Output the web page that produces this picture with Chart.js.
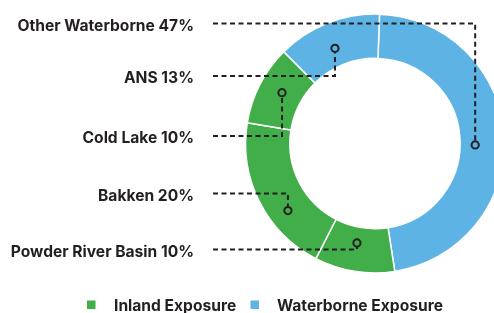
<!DOCTYPE html>
<html>
<head>
<meta charset="utf-8">
<script src="https://cdn.jsdelivr.net/npm/chart.js@4"></script>
<style>
  html, body { margin: 0; padding: 0; background: #ffffff; overflow: hidden; }
  #wrap { position: relative; width: 494px; height: 313px; }
</style>
</head>
<body>
<div id="wrap"><canvas id="exposureChart"></canvas></div>
<script>
// crude sources, clockwise from the top
const sources = ['Other Waterborne', 'Powder River Basin', 'Bakken', 'Cold Lake', 'ANS'];
const shares = [47, 10, 20, 10, 13];
const exposure = ['Waterborne', 'Inland', 'Inland', 'Inland', 'Waterborne'];
const legendLabels = ['Inland Exposure', 'Waterborne Exposure'];

const colors = {
    'Inland': '#41ae4a',
    'Waterborne': '#5db3e4'
};
const ink = '#231f20';
const textFont = "bold 15.6px 'Inter', 'Liberation Sans', sans-serif";

// callout layout: label line y, where the marker sits inside its slice
const callouts = {
    0: { lineY: 23.5, along: 0.525, depth: 0.34 },
    4: { lineY: 76, along: 0.47, depth: 0.41 },
    3: { lineY: 136, along: 0.54, depth: 0.47 },
    2: { lineY: 193.5, along: 0.35, depth: 0.56 },
    1: { lineY: 249.5, along: 0.53, depth: 0.36 }
};

const calloutPlugin = {
    id: 'callouts',
    afterDatasetsDraw(chart) {
        const ctx = chart.ctx;
        const arcs = chart.getDatasetMeta(0).data;
        ctx.save();

        arcs.forEach((arc, i) => {
            const c = callouts[i];
            if (!c) return;
            const p = arc.getProps(['x', 'y', 'startAngle', 'endAngle', 'innerRadius', 'outerRadius'], true);
            const a = p.startAngle + (p.endAngle - p.startAngle) * c.along;
            const r = p.innerRadius + (p.outerRadius - p.innerRadius) * c.depth;
            const mx = p.x + r * Math.cos(a);
            const my = p.y + r * Math.sin(a);
            const dir = my > c.lineY ? 1 : -1;

            // dashed leader
            ctx.strokeStyle = ink;
            ctx.lineWidth = 2;
            ctx.setLineDash([5, 3.5]);
            ctx.beginPath();
            ctx.moveTo(213, c.lineY);
            ctx.lineTo(mx, c.lineY);
            ctx.lineTo(mx, my - dir * 4);
            ctx.stroke();

            // marker ring
            ctx.setLineDash([]);
            ctx.beginPath();
            ctx.arc(mx, my, 3.6, 0, Math.PI * 2);
            ctx.stroke();

            // label
            ctx.fillStyle = ink;
            ctx.font = textFont;
            ctx.textAlign = 'right';
            ctx.textBaseline = 'middle';
            ctx.fillText(sources[i] + ' ' + shares[i] + '%', 194, c.lineY + 2.5);
        });

        // legend
        const legendX = [{ box: 87, text: 114 }, { box: 250.5, text: 277 }];
        legendLabels.forEach((label, i) => {
            const key = label.split(' ')[0];
            ctx.fillStyle = colors[key];
            ctx.fillRect(legendX[i].box, 300.5, 8.5, 8.5);
            ctx.fillStyle = ink;
            ctx.font = textFont;
            ctx.textAlign = 'left';
            ctx.textBaseline = 'middle';
            ctx.fillText(label, legendX[i].text, 306);
        });

        ctx.restore();
    }
};

new Chart(document.getElementById('exposureChart'), {
    type: 'doughnut',
    data: {
        labels: sources,
        datasets: [{
            data: shares,
            backgroundColor: exposure.map(e => colors[e]),
            borderColor: '#ffffff',
            borderWidth: 1.5,
            clip: false
        }]
    },
    options: {
        responsive: true,
        maintainAspectRatio: false,
        animation: false,
        events: [],
        rotation: 2,
        radius: 129.4,
        cutout: '65.8%',
        layout: {
            padding: { left: 256, right: 0, top: 0, bottom: 26 }
        },
        plugins: {
            legend: { display: false },
            tooltip: { enabled: false }
        }
    },
    plugins: [calloutPlugin]
});
</script>
</body>
</html>
